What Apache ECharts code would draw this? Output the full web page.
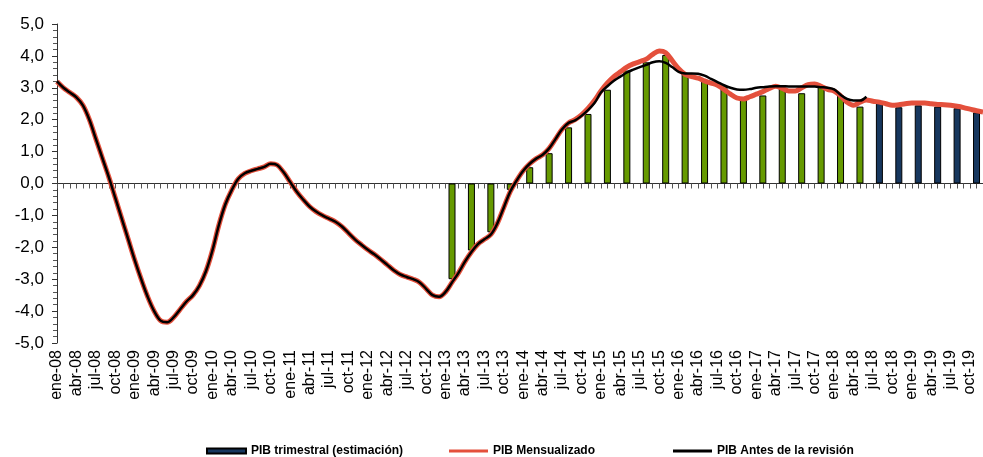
<html>
<head>
<meta charset="utf-8">
<script src="https://cdn.jsdelivr.net/npm/echarts@6/dist/echarts.min.js"></script>
<style>
  body { margin: 0; background: #fff; }
  #container { width: 983px; height: 457px; }
</style>
</head>
<body>
<div id="container"></div>
<script>
// months ene-08 .. dic-19
const MONTHS = ['ene', 'feb', 'mar', 'abr', 'may', 'jun', 'jul', 'ago', 'sep', 'oct', 'nov', 'dic'];
const YEARS = ['08', '09', '10', '11', '12', '13', '14', '15', '16', '17', '18', '19'];

// PIB Mensualizado (monthly, ene-08 .. dic-19)
const mensualizado = [
  3.2, 3.0, 2.85, 2.7, 2.45, 2.0, 1.4, 0.8, 0.2, -0.45, -1.1, -1.75,
  -2.4, -3.0, -3.55, -4.0, -4.3, -4.35, -4.2, -3.95, -3.7, -3.5, -3.2, -2.75,
  -2.1, -1.3, -0.65, -0.2, 0.15, 0.32, 0.4, 0.46, 0.52, 0.62, 0.58, 0.35,
  0.05, -0.25, -0.5, -0.72, -0.88, -1.0, -1.1, -1.2, -1.35, -1.55, -1.75, -1.92,
  -2.08, -2.22, -2.38, -2.55, -2.72, -2.85, -2.93, -3.0, -3.1, -3.3, -3.5, -3.55,
  -3.4, -3.1, -2.8, -2.45, -2.15, -1.9, -1.75, -1.6, -1.25, -0.75, -0.25, 0.1,
  0.4, 0.62, 0.78, 0.9, 1.1, 1.4, 1.7, 1.9, 2.0, 2.15, 2.35, 2.6,
  2.9, 3.15, 3.35, 3.5, 3.65, 3.75, 3.82, 3.9, 4.05, 4.15, 4.1, 3.85,
  3.6, 3.42, 3.35, 3.3, 3.22, 3.15, 3.08, 2.95, 2.8, 2.68, 2.65, 2.72,
  2.8, 2.88, 2.98, 3.05, 2.98, 2.9, 2.9, 3.0, 3.1, 3.12, 3.05, 2.95,
  2.9, 2.75, 2.55, 2.45, 2.55, 2.62, 2.58, 2.55, 2.5, 2.45, 2.47, 2.5,
  2.52, 2.52, 2.52, 2.5, 2.48, 2.47, 2.45, 2.42, 2.38, 2.33, 2.28, 2.24
];

// PIB Antes de la revisión (monthly, ene-08 .. jun-18)
const antesRevision = [
  3.2, 3.0, 2.85, 2.7, 2.45, 2.0, 1.4, 0.8, 0.2, -0.45, -1.1, -1.75,
  -2.4, -3.0, -3.55, -4.0, -4.3, -4.35, -4.2, -3.95, -3.7, -3.5, -3.2, -2.75,
  -2.1, -1.3, -0.65, -0.2, 0.15, 0.32, 0.4, 0.46, 0.52, 0.62, 0.58, 0.35,
  0.05, -0.25, -0.5, -0.72, -0.88, -1.0, -1.1, -1.2, -1.35, -1.55, -1.75, -1.92,
  -2.08, -2.22, -2.38, -2.55, -2.72, -2.85, -2.93, -3.0, -3.1, -3.3, -3.5, -3.55,
  -3.4, -3.1, -2.8, -2.45, -2.15, -1.9, -1.75, -1.6, -1.25, -0.75, -0.25, 0.1,
  0.4, 0.62, 0.78, 0.9, 1.1, 1.4, 1.7, 1.9, 1.98, 2.12, 2.3, 2.52,
  2.85, 3.05, 3.22, 3.35, 3.48, 3.57, 3.65, 3.72, 3.8, 3.83, 3.78, 3.65,
  3.5, 3.45, 3.45, 3.44, 3.38, 3.28, 3.18, 3.08, 3.0, 2.95, 2.94, 2.96,
  3.0, 3.02, 3.04, 3.05, 3.05, 3.04, 3.04, 3.04, 3.04, 3.04, 3.02, 3.0,
  2.95, 2.78, 2.65, 2.6, 2.6, 2.72
];

// PIB trimestral, 1T-13 .. 2T-18 (observed) and 3T-18 .. 4T-19 (estimation)
const trimestralObs = [
  -3.0, -2.1, -1.53, -0.2,
  0.51, 0.95, 1.76, 2.18,
  2.94, 3.54, 3.8, 4.03,
  3.44, 3.25, 3.04, 2.66,
  2.76, 3.0, 2.83, 3.07,
  2.76, 2.41
];
const trimestralEst = [2.55, 2.39, 2.45, 2.41, 2.36, 2.23];
const FIRST_QUARTER_MONTH = 61; // feb-13, middle month of 1T-13

const LEGEND_NAMES = ['PIB trimestral (estimación)', 'PIB Mensualizado', 'PIB Antes de la revisión'];

const categories = [];
YEARS.forEach(y => MONTHS.forEach(m => categories.push(m + '-' + y)));

function quarterToMonthly(values, startQuarter) {
  let out = categories.map(() => null);
  values.forEach((v, i) => {
    out[FIRST_QUARTER_MONTH + 3 * (startQuarter + i)] = v;
  });
  return out;
}

function buildLegend(name, left, color, h) {
  let item = { name, icon: 'rect' };
  if (color) item.itemStyle = { color };
  return {
    top: 440,
    left,
    itemWidth: 39,
    itemHeight: h,
    textStyle: { fontSize: 12, fontWeight: 'bold', color: '#000' },
    data: [item]
  };
}

let mychart = echarts.init(document.getElementById('container'));

var option = {
  animation: false,
  textStyle: { fontFamily: 'Liberation Sans, Arial, sans-serif' },
  grid: { left: 57, top: 24, width: 929.5, height: 319, containLabel: false },
  legend: [
    buildLegend(LEGEND_NAMES[0], 201, null, 5),
    buildLegend(LEGEND_NAMES[1], 444, '#e4503c', 3),
    buildLegend(LEGEND_NAMES[2], 668, '#000', 3)
  ],
  xAxis: [
    {
      type: 'category',
      data: categories,
      boundaryGap: false,
      position: 'bottom',
      axisLine: { show: false, onZero: false },
      axisTick: { show: false },
      axisLabel: {
        interval: 2,
        rotate: 90,
        margin: 7,
        fontSize: 16,
        color: '#000'
      },
      splitLine: { show: false }
    },
    {
      type: 'category',
      data: categories,
      boundaryGap: false,
      position: 'top',
      axisLine: { show: true, onZero: true, lineStyle: { color: '#333', width: 1 } },
      axisTick: { show: true, inside: true, interval: 0, length: 5, lineStyle: { color: '#555' } },
      axisLabel: { show: false },
      splitLine: { show: false }
    }
  ],
  yAxis: {
    type: 'value',
    min: -5,
    max: 5,
    interval: 1,
    axisLine: { show: true, lineStyle: { color: '#333' } },
    axisTick: { show: true, length: 5, lineStyle: { color: '#333' } },
    minorTick: { show: true, splitNumber: 5, length: 4, lineStyle: { color: '#555' } },
    splitLine: { show: false },
    axisLabel: {
      margin: 13,
      fontSize: 17,
      color: '#000',
      formatter: v => v.toFixed(1).replace('.', ',')
    }
  },
  series: [
    {
      name: 'PIB trimestral (obs)',
      type: 'bar',
      data: quarterToMonthly(trimestralObs, 0),
      barWidth: 7,
      barGap: '-100%',
      itemStyle: { color: '#669a00', borderColor: '#000', borderWidth: 1 },
      z: 1
    },
    {
      name: LEGEND_NAMES[0],
      type: 'bar',
      data: quarterToMonthly(trimestralEst, trimestralObs.length),
      barWidth: 7,
      barGap: '-100%',
      itemStyle: { color: '#17375e', borderColor: '#000', borderWidth: 1 },
      z: 1
    },
    {
      name: LEGEND_NAMES[1],
      type: 'line',
      data: mensualizado,
      smooth: 0.35,
      showSymbol: false,
      color: '#e4503c',
      lineStyle: { width: 5, color: '#e4503c' },
      z: 3
    },
    {
      name: LEGEND_NAMES[2],
      type: 'line',
      data: antesRevision,
      smooth: 0.35,
      showSymbol: false,
      color: '#000',
      lineStyle: { width: 2.5, color: '#000' },
      z: 4
    }
  ]
};

mychart.setOption(option);
</script>
</body>
</html>
